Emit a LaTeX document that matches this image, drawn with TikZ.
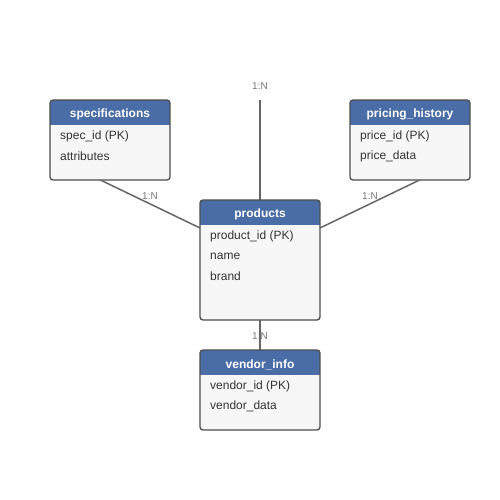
\documentclass[tikz,border=0pt]{standalone}
\usepackage{fontspec}
\setmainfont{Liberation Sans}
\usetikzlibrary{calc}
\definecolor{hdr}{HTML}{4A6DA7}
\definecolor{bodyc}{HTML}{F7F7F7}
\definecolor{bord}{HTML}{4D4D4D}
\definecolor{conn}{HTML}{666666}
\definecolor{txt}{HTML}{333333}
\definecolor{lbl}{HTML}{777777}
\tikzset{
  hdrtxt/.style={text=white, font=\fontsize{12}{14}\selectfont\bfseries, inner sep=0pt},
  rowtxt/.style={text=txt, font=\fontsize{12}{14}\selectfont, anchor=west, inner sep=0pt},
  reltxt/.style={text=lbl, font=\fontsize{10}{12}\selectfont, inner sep=0pt},
  rel/.style={draw=conn, line width=1.5pt},
  boxframe/.style={draw=bord, line width=1.3pt, rounded corners=3pt}
}
\begin{document}
\begin{tikzpicture}[x=1pt,y=-1pt]
\useasboundingbox (0,0) rectangle (500,500);
\coordinate (topend) at (260,100);
\node[reltxt] (l0) at (260,86.5) {1:N};
\foreach \n/\x/\y/\w/\h in {spec/50/100/120/80, price/350/100/120/80, prod/200/200/120/120, vend/200/350/120/80}{
  \node[minimum width=\w pt, minimum height=\h pt, anchor=north west, inner sep=0pt, outer sep=0pt] (\n) at (\x,\y) {};
}
\draw[rel] (prod.north) -- (topend);
\draw[rel] ($(spec.south west)!0.42!(spec.south east)$) -- ($(prod.north west)!0.233!(prod.south west)$);
\draw[rel] ($(price.south west)!0.58!(price.south east)$) -- ($(prod.north east)!0.233!(prod.south east)$);
\draw[rel] (prod.south) -- (vend.north);
\node[reltxt] (l1) at (150,196.5) {1:N};
\node[reltxt] (l2) at (370,196.5) {1:N};
\node[reltxt] (l3) at (260,336.5) {1:N};
\foreach \n in {spec,price,prod,vend}{
  \fill[bodyc, rounded corners=3pt] (\n.north west) rectangle (\n.south east);
  \begin{scope}
    \clip[rounded corners=3pt] (\n.north west) rectangle (\n.south east);
    \fill[hdr] (\n.north west) rectangle ($(\n.north east)+(0,25)$);
  \end{scope}
  \draw[boxframe] (\n.north west) rectangle (\n.south east);
}
\node[hdrtxt] (t1) at (110,114.5) {specifications};
\node[hdrtxt] (t2) at (410,114.5) {pricing\_history};
\node[hdrtxt] (t3) at (260,214.5) {products};
\node[hdrtxt] (t4) at (260,364.5) {vendor\_info};
\node[rowtxt] (r11) at (60,136.5) {spec\_id (PK)};
\node[rowtxt] (r12) at (60,156.5) {attributes};
\node[rowtxt] (r21) at (360,136.5) {price\_id (PK)};
\node[rowtxt] (r22) at (360,156.5) {price\_data};
\node[rowtxt] (r31) at (210,236.5) {product\_id (PK)};
\node[rowtxt] (r32) at (210,256.5) {name};
\node[rowtxt] (r33) at (210,276.5) {brand};
\node[rowtxt] (r41) at (210,386.5) {vendor\_id (PK)};
\node[rowtxt] (r42) at (210,406.5) {vendor\_data};
\end{tikzpicture}
\end{document}
